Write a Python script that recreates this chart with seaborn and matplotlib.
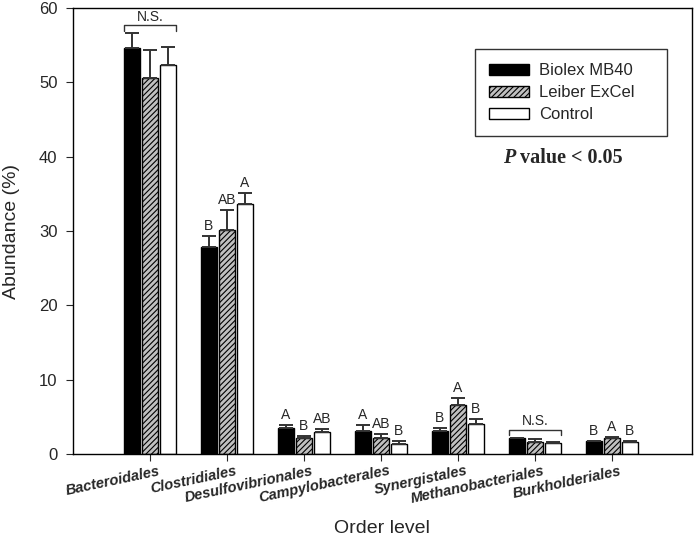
import matplotlib
matplotlib.use('Agg')
import matplotlib.pyplot as plt
import matplotlib.transforms as mtransforms
import seaborn as sns
import pandas as pd

# values
orders = ['Bacteroidales', 'Clostridiales', 'Desulfovibrionales', 'Campylobacterales',
          'Synergistales', 'Methanobacteriales', 'Burkholderiales']
groups = ['Biolex MB40', 'Leiber ExCel', 'Control']
biolex = [54.6, 27.9, 3.5, 3.1, 3.1, 2.1, 1.7]
biolex_err = [2.0, 1.4, 0.35, 0.8, 0.35, 0.1, 0.1]
leiber = [50.6, 30.2, 2.2, 2.2, 6.6, 1.65, 2.2]
leiber_err = [3.8, 2.7, 0.2, 0.45, 1.0, 0.35, 0.15]
control = [52.3, 33.7, 3.0, 1.4, 4.1, 1.55, 1.6]
control_err = [2.5, 1.4, 0.4, 0.4, 0.6, 0.05, 0.1]
letters_biolex = ['', 'B', 'A', 'A', 'B', '', 'B']
letters_leiber = ['', 'AB', 'B', 'AB', 'A', '', 'A']
letters_control = ['', 'A', 'AB', 'B', 'B', '', 'B']
ns_orders = ['Bacteroidales', 'Methanobacteriales']

df = pd.DataFrame({
    'order': orders * 3,
    'group': [g for g in groups for _ in orders],
    'value': biolex + leiber + control,
})
errs = [biolex_err, leiber_err, control_err]
tops = [biolex, leiber, control]
letters = [letters_biolex, letters_leiber, letters_control]

sns.set_style('ticks')
plt.rcParams['font.family'] = ['Liberation Sans', 'DejaVu Sans']
plt.rcParams['hatch.linewidth'] = 0.8

fig = plt.figure(figsize=(6.94, 5.38), dpi=100)
ax = fig.add_axes([0.105, 0.156, 0.892, 0.829])

sns.barplot(data=df, x='order', y='value', hue='group', order=orders, hue_order=groups,
            palette=['black', '#c0c0c0', 'white'], errorbar=None, width=0.7, gap=0.1,
            edgecolor='black', linewidth=1.0, saturation=1, ax=ax)

bars = list(ax.containers)
for bar in bars[1]:
    bar.set_hatch('//////')

# one-sided error bars and letters
for k, cont in enumerate(bars):
    xs = [b.get_x() + b.get_width() / 2 for b in cont]
    ax.errorbar(xs, tops[k], yerr=[[0] * len(xs), errs[k]], fmt='none',
                ecolor='#333333', elinewidth=1.4, capsize=5, capthick=1.4, zorder=1)
    for x, t, e, lab in zip(xs, tops[k], errs[k], letters[k]):
        if lab:
            ax.text(x, t + e + 0.4, lab, ha='center', va='bottom', fontsize=10)

# N.S. brackets
for name in ns_orders:
    i = orders.index(name)
    x0 = bars[0][i].get_x()
    x1 = bars[2][i].get_x() + bars[2][i].get_width()
    top = max(tops[k][i] + errs[k][i] for k in range(3))
    y = top + 1.1
    ax.plot([x0, x0, x1, x1], [y - 0.8, y, y, y - 0.8], color='#333333', lw=1.0)
    ax.text((x0 + x1) / 2, y + 0.2, 'N.S.', ha='center', va='bottom', fontsize=10)

ax.set_xlim(-1.0, 7.04)
ax.set_ylim(0, 60)
ax.set_yticks(range(0, 61, 10))
ax.set_xlabel('Order level', fontsize=14, labelpad=10)
ax.set_ylabel('Abundance (%)', fontsize=14, labelpad=14)
ax.tick_params(axis='y', labelsize=12, direction='out', length=5, pad=6)
ax.tick_params(axis='x', direction='out', length=5, pad=2)
ax.set_xticks(range(len(orders)))
ax.set_xticklabels(orders, rotation=12, ha='right', va='top', rotation_mode='anchor',
                   fontsize=10.5, fontstyle='italic', fontweight='bold')
shift = mtransforms.ScaledTranslation(8 / 100, 0, fig.dpi_scale_trans)
for lab in ax.get_xticklabels():
    lab.set_transform(lab.get_transform() + shift)
for spine in ax.spines.values():
    spine.set_visible(True)
    spine.set_color('black')
    spine.set_linewidth(1.0)

handles = [bars[k][0] for k in range(3)]
leg = ax.legend(handles, groups, loc='upper left', bbox_to_anchor=(0.649, 0.7, 0.310, 0.208),
                mode='expand', borderaxespad=0, fontsize=12, frameon=True, fancybox=False,
                edgecolor='black', handlelength=2.4, handleheight=0.7,
                handletextpad=0.6, borderpad=0.85, labelspacing=0.42)
leg.get_frame().set_linewidth(1.0)

ax.text(0.714, 0.664, 'P', transform=ax.transAxes, ha='right', va='center',
        fontsize=14.5, fontweight='bold', fontstyle='italic', family='Liberation Serif')
ax.text(0.714, 0.664, ' value < 0.05', transform=ax.transAxes, ha='left', va='center',
        fontsize=14.5, fontweight='bold', family='Liberation Serif')

fig.savefig('out.png', dpi=100)
